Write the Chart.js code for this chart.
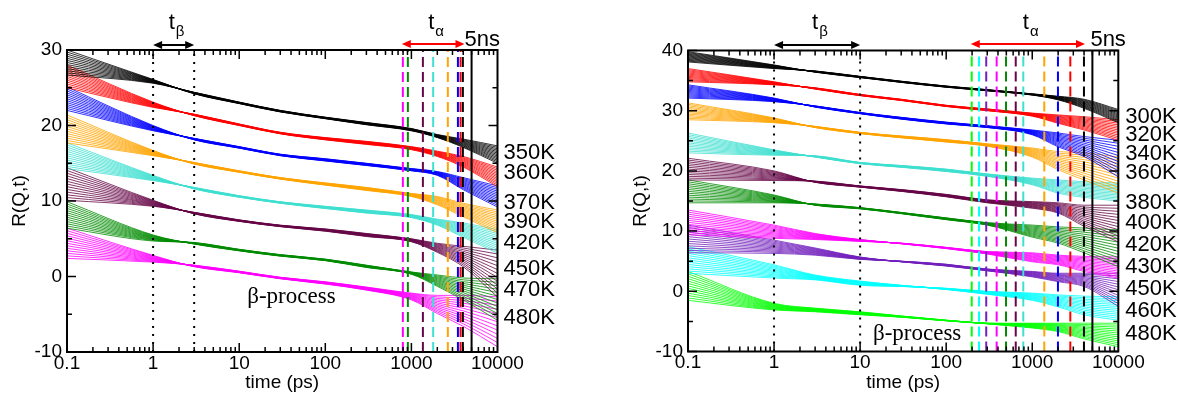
<!DOCTYPE html>
<html>
<head>
<meta charset="utf-8">
<script src="https://cdn.jsdelivr.net/npm/chart.js@4.4.1/dist/chart.umd.min.js"></script>
<style>
  body { margin: 0; background: #fff; width: 1178px; height: 394px; overflow: hidden; position: relative; }
  canvas { position: absolute; top: 0; }
  #c1 { left: 0; }
  #c2 { left: 589px; }
</style>
</head>
<body>
<canvas id="c1" width="589" height="394"></canvas>
<canvas id="c2" width="589" height="394"></canvas>
<script>
// sample times (ps) where the curves were read
const times = [0.1, 1, 3, 10, 30, 100, 300, 1000, 2000, 4000, 10000];
const linesPerGroup = 13;

const xTickValues = [0.1, 1, 10, 100, 1000, 10000];
const xTickLabels = ['0.1', '1', '10', '100', '1000', '10000'];

// left panel: edge curves of each fan (high Q starts on top, ends at the bottom)
const leftTemps = ['350K', '360K', '370K', '390K', '420K', '450K', '470K', '480K'];
const leftColors = ['#000000', '#ff0000', '#0000ff', '#ffa500', '#40e0d0', '#670748', '#008b00', '#ff00ff'];
const leftHighQ = [
  [30.0, 26.1, 24.2, 22.9, 21.8, 20.9, 20.1, 19.3, 18.4, 17.1, 15.0],
  [28.0, 23.1, 21.3, 20.0, 18.9, 18.1, 17.5, 16.8, 15.9, 14.5, 11.9],
  [25.1, 20.0, 18.1, 17.0, 16.0, 15.3, 14.7, 14.0, 13.4, 11.5, 9.2],
  [21.4, 16.7, 14.9, 13.8, 12.9, 12.1, 11.4, 10.6, 9.5, 7.9, 5.8],
  [17.7, 13.4, 11.6, 10.5, 9.7, 9.0, 8.4, 7.8, 6.8, 5.2, 3.1],
  [14.4, 10.1, 8.3, 7.3, 6.6, 6.0, 5.3, 4.6, 3.2, 1.3, -2.7],
  [9.9, 5.5, 4.3, 3.4, 2.7, 2.1, 1.2, 0.3, -1.3, -3.1, -5.8],
  [6.4, 2.8, 1.3, 0.5, -0.3, -1.0, -1.8, -3.1, -4.9, -6.6, -9.3]
];
const leftLowQ = [
  [26.7, 25.6, 24.4, 23.1, 22.0, 21.1, 20.4, 19.6, 18.8, 18.2, 17.3],
  [25.0, 22.4, 21.5, 20.2, 19.1, 18.4, 17.9, 17.2, 16.6, 15.9, 14.5],
  [22.0, 19.3, 18.3, 17.2, 16.2, 15.6, 15.0, 14.3, 13.9, 13.1, 12.0],
  [17.7, 16.0, 15.1, 14.0, 13.1, 12.4, 11.8, 11.0, 10.6, 9.7, 8.8],
  [14.3, 12.7, 11.8, 10.7, 9.9, 9.3, 8.8, 8.2, 7.6, 7.1, 6.2],
  [10.1, 9.3, 8.5, 7.5, 6.8, 6.3, 5.7, 5.0, 4.4, 4.0, 3.5],
  [6.4, 4.7, 4.5, 3.6, 2.9, 2.3, 1.5, 0.6, 0.2, -0.2, -0.3],
  [2.4, 1.9, 1.5, 0.7, -0.1, -0.7, -1.4, -2.2, -2.5, -2.5, -2.7]
];
const leftTauAlpha = [3960, 3720, 3470, 2650, 1790, 1360, 910, 796];
const leftBeta = [1, 3];
const leftAlphaArrow = [774, 4140];

// right panel
const rightTemps = ['300K', '320K', '340K', '360K', '380K', '400K', '420K', '430K', '450K', '460K', '480K'];
const rightColors = ['#000000', '#ff0000', '#0000ff', '#ffa500', '#40e0d0', '#670748', '#008b00', '#ff00ff', '#7221bc', '#00ffff', '#00ff00'];
const rightHighQ = [
  [39.8, 37.6, 36.4, 35.5, 34.7, 33.9, 33.3, 32.6, 31.8, 30.4, 28.0],
  [37.0, 34.8, 33.6, 32.5, 31.7, 30.7, 30.0, 29.1, 27.9, 26.8, 25.1],
  [34.3, 32.1, 30.6, 29.5, 28.6, 27.8, 27.2, 26.0, 24.0, 22.4, 19.0],
  [31.3, 28.8, 27.2, 26.2, 25.5, 24.8, 24.1, 22.3, 20.2, 18.5, 16.3],
  [26.3, 23.5, 22.3, 21.2, 20.6, 19.9, 19.1, 17.7, 16.3, 15.6, 15.0],
  [22.1, 20.0, 18.1, 17.3, 16.6, 15.7, 14.7, 13.8, 13.0, 10.8, 8.2],
  [18.5, 16.0, 14.3, 13.7, 12.9, 11.9, 11.0, 9.0, 8.0, 6.4, 4.1],
  [13.5, 11.0, 9.6, 8.6, 7.9, 7.1, 6.2, 4.9, 4.4, 3.3, 2.2],
  [11.0, 8.5, 7.2, 5.7, 4.9, 4.2, 3.4, 2.4, 1.6, 0.8, -2.5],
  [7.4, 4.4, 2.7, 1.7, 1.0, 0.3, -0.5, -1.5, -2.6, -3.9, -4.8],
  [3.3, -2.0, -2.8, -3.4, -4.1, -4.8, -5.4, -6.1, -6.7, -7.9, -9.2]
];
const rightLowQ = [
  [38.1, 37.0, 36.6, 35.7, 34.9, 34.1, 33.5, 32.8, 32.4, 31.9, 30.2],
  [34.8, 34.3, 33.8, 32.7, 31.9, 30.9, 30.3, 29.6, 29.3, 29.0, 28.5],
  [32.1, 31.5, 30.8, 29.7, 28.9, 28.1, 27.5, 26.8, 26.3, 25.7, 25.1],
  [28.5, 28.0, 27.4, 26.4, 25.8, 25.2, 24.5, 23.8, 23.2, 23.0, 22.3],
  [23.0, 22.6, 22.5, 21.4, 20.9, 20.3, 19.5, 18.8, 18.5, 18.2, 18.0],
  [18.5, 18.4, 18.3, 17.5, 16.9, 16.1, 15.2, 14.9, 14.7, 14.3, 14.3],
  [14.7, 14.7, 14.5, 13.9, 13.1, 12.2, 11.4, 11.0, 10.7, 10.5, 10.2],
  [9.4, 8.8, 8.6, 8.3, 8.0, 7.3, 6.6, 6.4, 6.0, 5.8, 5.7],
  [6.4, 6.3, 6.0, 5.3, 5.0, 4.5, 3.7, 3.3, 3.0, 3.0, 3.0],
  [3.0, 2.2, 1.9, 1.0, 0.8, 0.5, 0.0, -0.3, -0.6, -0.8, -0.9],
  [-1.5, -3.1, -3.4, -3.9, -4.3, -4.9, -5.3, -5.3, -5.3, -5.3, -5.3]
];
const rightTauAlpha = [3990, 2770, 1990, 1380, 787, 643, 496, 386, 292, 241, 198];
const rightBeta = [1, 10];
const rightAlphaArrow = [193, 4100];

const fiveNs = 5000;

// where the temperature names sit (in y units)
const leftLabelAt = [16.4, 13.7, 9.7, 7.2, 4.4, 1.0, -1.8, -5.5];
const rightLabelAt = [28.95, 25.96, 22.8, 19.65, 14.67, 11.35, 7.7, 4.0, 0.4, -3.3, -7.1];

const SANS = '"Liberation Sans", Arial, Helvetica, sans-serif';
const SERIF = '"Liberation Serif", "Times New Roman", serif';

function drawArrow(ctx, x1, x2, y, color) {
  ctx.strokeStyle = color;
  ctx.fillStyle = color;
  ctx.lineWidth = 2;
  ctx.beginPath();
  ctx.moveTo(x1 + 4, y);
  ctx.lineTo(x2 - 4, y);
  ctx.stroke();
  ctx.beginPath();
  ctx.moveTo(x1, y); ctx.lineTo(x1 + 9, y - 4); ctx.lineTo(x1 + 9, y + 4); ctx.closePath(); ctx.fill();
  ctx.beginPath();
  ctx.moveTo(x2, y); ctx.lineTo(x2 - 9, y - 4); ctx.lineTo(x2 - 9, y + 4); ctx.closePath(); ctx.fill();
}

function drawTSub(ctx, cx, sub) {
  ctx.fillStyle = '#000';
  ctx.textAlign = 'left';
  ctx.textBaseline = 'alphabetic';
  ctx.font = '22px ' + SANS;
  const tw = ctx.measureText('t').width;
  const x0 = cx - 5;
  ctx.fillText('t', x0, 29);
  ctx.font = '15px ' + SANS;
  ctx.fillText(sub, x0 + tw + 1, 36);
}

function makeDecor(cfg) {
  return {
    id: 'decor',
    afterDatasetsDraw(chart) {
      const { ctx, chartArea: a, scales: { x, y } } = chart;
      ctx.save();
      // frame
      ctx.strokeStyle = '#000';
      ctx.lineWidth = 2;
      ctx.strokeRect(a.left, a.top, a.right - a.left, a.bottom - a.top);
      // inward ticks
      ctx.lineWidth = 1.5;
      ctx.beginPath();
      for (let d = -1; d < 4; d++) {
        for (let m = 1; m < 10; m++) {
          const px = x.getPixelForValue(m * Math.pow(10, d));
          const len = m === 1 ? 9 : 5;
          ctx.moveTo(px, a.bottom); ctx.lineTo(px, a.bottom - len);
          ctx.moveTo(px, a.top); ctx.lineTo(px, a.top + len);
        }
      }
      for (let v = cfg.yMin; v <= cfg.yMax; v += 5) {
        const py = y.getPixelForValue(v);
        const len = v % 10 === 0 ? 9 : 5;
        ctx.moveTo(a.left, py); ctx.lineTo(a.left + len, py);
        ctx.moveTo(a.right, py); ctx.lineTo(a.right - len, py);
      }
      ctx.stroke();

      // arrows and their labels
      const b1 = x.getPixelForValue(cfg.beta[0]), b2 = x.getPixelForValue(cfg.beta[1]);
      drawArrow(ctx, b1, b2, 45, '#000');
      drawTSub(ctx, (b1 + b2) / 2, '\u03b2');
      const a1 = x.getPixelForValue(cfg.alphaArrow[0]), a2 = x.getPixelForValue(cfg.alphaArrow[1]);
      drawArrow(ctx, a1, a2, 44, '#ff0000');
      drawTSub(ctx, (a1 + a2) / 2, '\u03b1');

      ctx.fillStyle = '#000';
      ctx.textAlign = 'left';
      ctx.textBaseline = 'alphabetic';
      ctx.font = '22px ' + SANS;
      ctx.fillText('5ns', x.getPixelForValue(fiveNs) + cfg.nsDx, 46);

      // temperature names
      ctx.textBaseline = 'middle';
      cfg.temps.forEach((name, i) => {
        ctx.fillText(name, a.right + cfg.labelDx, y.getPixelForValue(cfg.labelAt[i]));
      });

      // beta-process note
      ctx.font = '23px ' + SERIF;
      ctx.fillText('\u03b2-process', x.getPixelForValue(cfg.noteAt[0]), y.getPixelForValue(cfg.noteAt[1]));

      // axis titles
      ctx.font = '19px ' + SANS;
      ctx.textAlign = 'center';
      ctx.fillText('time (ps)', (a.left + a.right) / 2, 383);
      ctx.save();
      ctx.translate(cfg.yTitleX, (a.top + a.bottom) / 2);
      ctx.rotate(-Math.PI / 2);
      ctx.textBaseline = 'alphabetic';
      ctx.font = '19px ' + SANS;
      ctx.fillText('R(Q,t)', 0, 0);
      ctx.restore();

      ctx.restore();
    }
  };
}

function buildPanel(id, cfg) {
  const datasets = [];
  cfg.highQ.forEach((hi, g) => {
    const lo = cfg.lowQ[g];
    for (let k = 0; k < linesPerGroup; k++) {
      const f = k / (linesPerGroup - 1);
      datasets.push({
        data: times.map((t, i) => ({ x: t, y: hi[i] + (lo[i] - hi[i]) * f })),
        borderColor: cfg.colors[g],
        borderWidth: 0.8,
        pointRadius: 0,
        cubicInterpolationMode: 'monotone',
        order: 2
      });
    }
  });
  cfg.tauAlpha.forEach((t, g) => {
    datasets.push({
      data: [{ x: t, y: cfg.yMin }, { x: t, y: cfg.yMax }],
      borderColor: cfg.colors[g], borderWidth: 2, borderDash: [10, 5],
      pointRadius: 0, order: 1
    });
  });
  cfg.beta.forEach(t => {
    datasets.push({
      data: [{ x: t, y: cfg.yMin }, { x: t, y: cfg.yMax }],
      borderColor: '#000', borderWidth: 2, borderDash: [2, 6],
      pointRadius: 0, order: 1
    });
  });
  datasets.push({
    data: [{ x: fiveNs, y: cfg.yMin }, { x: fiveNs, y: cfg.yMax }],
    borderColor: '#000', borderWidth: 2, pointRadius: 0, order: 0
  });

  const yTicks = [];
  for (let v = cfg.yMin; v <= cfg.yMax; v += 10) yTicks.push(v);

  return new Chart(document.getElementById(id), {
    type: 'line',
    data: { datasets },
    options: {
      responsive: false,
      animation: false,
      events: [],
      layout: { padding: cfg.padding },
      plugins: { legend: { display: false }, tooltip: { enabled: false } },
      scales: {
        x: {
          type: 'logarithmic', min: 0.1, max: 10000,
          afterBuildTicks: s => { s.ticks = xTickValues.map(v => ({ value: v })); },
          afterFit: s => { s.height = cfg.xHeight; },
          grid: { display: false, drawTicks: false },
          border: { display: false },
          ticks: {
            autoSkip: false, maxRotation: 0, padding: 0, color: '#000',
            font: { family: SANS, size: 19 },
            callback: (v, i) => xTickLabels[i]
          }
        },
        y: {
          type: 'linear', min: cfg.yMin, max: cfg.yMax,
          afterBuildTicks: s => { s.ticks = yTicks.map(v => ({ value: v })); },
          afterFit: s => { s.width = 50; },
          grid: { display: false, drawTicks: false },
          border: { display: false },
          ticks: {
            padding: 5, color: '#000',
            font: { family: SANS, size: 19 },
            callback: v => String(v)
          }
        }
      }
    },
    plugins: [makeDecor(cfg)]
  });
}

buildPanel('c1', {
  temps: leftTemps, colors: leftColors, highQ: leftHighQ, lowQ: leftLowQ,
  tauAlpha: leftTauAlpha, beta: leftBeta, alphaArrow: leftAlphaArrow,
  labelAt: leftLabelAt, yMin: -10, yMax: 30,
  noteAt: [12.4, -2.7], nsDx: -7, labelDx: 6, yTitleX: 25,
  padding: { left: 17, right: 91.5, top: 50, bottom: 0 }, xHeight: 42
});

buildPanel('c2', {
  temps: rightTemps, colors: rightColors, highQ: rightHighQ, lowQ: rightLowQ,
  tauAlpha: rightTauAlpha, beta: rightBeta, alphaArrow: rightAlphaArrow,
  labelAt: rightLabelAt, yMin: -10, yMax: 40,
  noteAt: [14.1, -7.1], nsDx: -2, labelDx: 7, yTitleX: 57,
  padding: { left: 49, right: 59.7, top: 50.5, bottom: 0 }, xHeight: 42.5
});
</script>
</body>
</html>
